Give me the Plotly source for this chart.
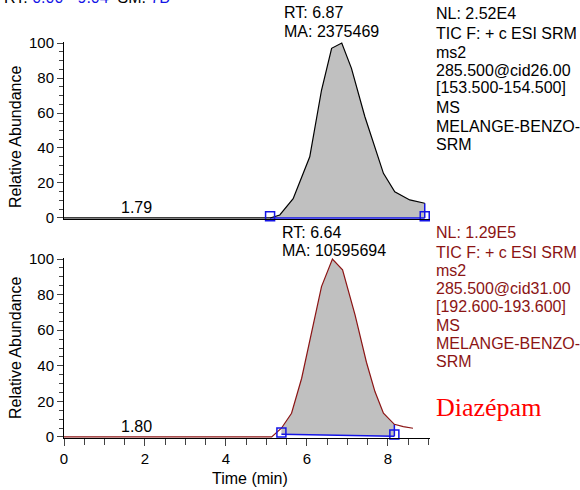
import plotly.graph_objects as go

# ---------------- data ----------------
top_time = [0.0, 1.0, 2.0, 3.0, 4.0, 5.0, 5.09, 5.33, 5.66, 6.07, 6.36, 6.61, 6.86, 7.10, 7.43, 7.89, 8.17, 8.54, 8.91]
top_abund = [0, 0, 0, 0, 0, 0, 0, 1.7, 11, 35, 73, 97, 100, 85.5, 58, 25.5, 15, 10.3, 8.4]
top_base_time = [5.09, 8.91]
top_base_abund = [0.0, 0.0]

bot_time = [0.0, 1.0, 2.0, 3.0, 4.0, 5.0, 5.13, 5.37, 5.62, 5.87, 6.12, 6.36, 6.63, 6.88, 7.19, 7.47, 7.68, 7.89, 8.16, 8.38, 8.62]
bot_abund = [0, 0, 0, 0, 0, 0, 0, 4.9, 13.3, 33, 59, 84.5, 100, 94, 68.5, 42, 25.5, 13.3, 7.1, 5.8, 4.9]
bot_base_time = [5.37, 8.16]
bot_base_abund = [1.5, 0.4]

noise_label_time = [1.8, 1.8]
noise_labels = ["1.79", "1.80"]

top_info = ["NL: 2.52E4", "TIC F: + c ESI SRM", "ms2", "285.500@cid26.00",
            "[153.500-154.500]", "MS", "MELANGE-BENZO-", "SRM"]
bot_info = ["NL: 1.29E5", "TIC F: + c ESI SRM", "ms2", "285.500@cid31.00",
            "[192.600-193.600]", "MS", "MELANGE-BENZO-", "SRM"]
top_peak_text = ["RT: 6.87", "MA: 2375469"]
bot_peak_text = ["RT: 6.64", "MA: 10595694"]
compound = "Diazépam"

x_ticks = [0, 2, 4, 6, 8]
y_ticks = [0, 20, 40, 60, 80, 100]

# ---------------- style ----------------
FONT = "Liberation Sans, Arial, sans-serif"
BLUE = "#1414e6"
DARKRED = "#8b1414"
GRAY = "#c0c0c0"
W, H = 580, 490
L, R, T, B = 64, 150, 42, 52
PW, PH = W - L - R, H - T - B


def px_x(px):
    return (px - L) / PW


def px_y(py):
    return (H - B - py) / PH


top_dom = [px_y(219), 1.0]
bot_dom = [0.0, px_y(258)]

fig = go.Figure()


def add_peak(time, ab, base_t, base_a, line_color, xa, ya):
    s, e = base_t[0], base_t[1]
    seg = [(t, a) for t, a in zip(time, ab) if s <= t <= e]
    poly_x = [p[0] for p in seg] + [base_t[1], base_t[0]]
    poly_y = [p[1] for p in seg] + [base_a[1], base_a[0]]
    fig.add_trace(go.Scatter(x=poly_x, y=poly_y, fill="toself", fillcolor=GRAY,
                             line=dict(width=0), mode="lines", xaxis=xa, yaxis=ya,
                             hoverinfo="skip", showlegend=False))
    fig.add_trace(go.Scatter(x=base_t, y=base_a, mode="lines", line=dict(color=BLUE, width=1.5),
                             xaxis=xa, yaxis=ya, showlegend=False, hoverinfo="skip"))
    end_val = [a for t, a in zip(time, ab) if t == e][0]
    fig.add_trace(go.Scatter(x=[e, e], y=[base_a[1], end_val], mode="lines",
                             line=dict(color=BLUE, width=1.5), xaxis=xa, yaxis=ya,
                             showlegend=False, hoverinfo="skip"))
    fig.add_trace(go.Scatter(x=time, y=ab, mode="lines", line=dict(color=line_color, width=1.2),
                             xaxis=xa, yaxis=ya, showlegend=False))
    fig.add_trace(go.Scatter(x=base_t, y=[a + 1 for a in base_a], mode="markers",
                             marker=dict(symbol="square-open", size=9, color=BLUE,
                                         line=dict(width=1.5, color=BLUE)),
                             xaxis=xa, yaxis=ya, showlegend=False, cliponaxis=False))


add_peak(top_time, top_abund, top_base_time, top_base_abund, "black", "x", "y")
add_peak(bot_time, bot_abund, bot_base_time, bot_base_abund, DARKRED, "x2", "y2")

axis_common = dict(showline=True, linecolor="black", linewidth=1, showgrid=False,
                   zeroline=False, tickfont=dict(family=FONT, size=15, color="black"))

fig.update_layout(
    width=W, height=H,
    margin=dict(l=L, r=R, t=T, b=B),
    paper_bgcolor="white", plot_bgcolor="white",
    font=dict(family=FONT, size=16, color="black"),
    xaxis=dict(domain=[0, 1], range=[0, 9.04], anchor="y", showticklabels=False, ticks="",
               **{k: v for k, v in axis_common.items() if k != "tickfont"}),
    yaxis=dict(domain=top_dom, range=[-0.6, 100.6], anchor="x", tickvals=y_ticks, ticks="outside",
               ticklen=6, minor=dict(dtick=5, ticks="outside", ticklen=4, tick0=0),
               **axis_common),
    xaxis2=dict(domain=[0, 1], range=[0, 9.04], anchor="y2", tickvals=x_ticks, ticks="outside",
                ticklen=7, minor=dict(dtick=0.5, tick0=0, ticks="outside", ticklen=6),
                **axis_common),
    yaxis2=dict(domain=bot_dom, range=[-0.6, 100.6], anchor="x2", tickvals=y_ticks, ticks="outside",
                ticklen=6, minor=dict(dtick=5, ticks="outside", ticklen=4, tick0=0),
                **axis_common),
)

ann = []


def text(px, py, s, color="black", size=16, xanchor="left", family=FONT, angle=0):
    ann.append(dict(x=px_x(px), y=px_y(py), xref="paper", yref="paper", text=s,
                    showarrow=False, xanchor=xanchor, yanchor="middle", textangle=angle,
                    font=dict(family=family, size=size, color=color)))


# header line (cut off at top of the image, as in the reference)
ann.append(dict(x=px_x(2), y=px_y(-3), xref="paper", yref="paper",
                text="RT: <span style='color:%s'>0.00 - 9.04</span>  SM: <span style='color:%s'>7B</span>" % (BLUE, BLUE),
                showarrow=False, xanchor="left", yanchor="middle",
                font=dict(family=FONT, size=16, color="black")))

text(282, 13, top_peak_text[0])
text(282, 32, top_peak_text[1])
text(280, 232, bot_peak_text[0])
text(280, 250, bot_peak_text[1])

ann.append(dict(x=noise_label_time[0], y=0, xref="x", yref="y", text=noise_labels[0], showarrow=False,
                yanchor="bottom", font=dict(family=FONT, size=16, color="black")))
ann.append(dict(x=noise_label_time[1], y=0, xref="x2", yref="y2", text=noise_labels[1], showarrow=False,
                yanchor="bottom", font=dict(family=FONT, size=16, color="black")))

top_ys = [14, 33, 52, 70, 88, 107, 126, 144]
bot_ys = [232, 252, 270, 288, 307, 325, 343, 361]
for s, yy in zip(top_info, top_ys):
    text(434, yy, s)
for s, yy in zip(bot_info, bot_ys):
    text(434, yy, s, color=DARKRED)

text(434, 407, compound, color="#ff0000", size=26, family="Liberation Serif, Times New Roman, serif")

text(15, 137, "Relative Abundance", xanchor="center", angle=-90)
text(15, 348, "Relative Abundance", xanchor="center", angle=-90)
text(250, 478, "Time (min)", xanchor="center")

fig.update_layout(annotations=ann)
fig.write_html("out.html", config={"displayModeBar": False},
               post_script="document.body.style.margin='0';document.body.style.overflow='hidden';")
